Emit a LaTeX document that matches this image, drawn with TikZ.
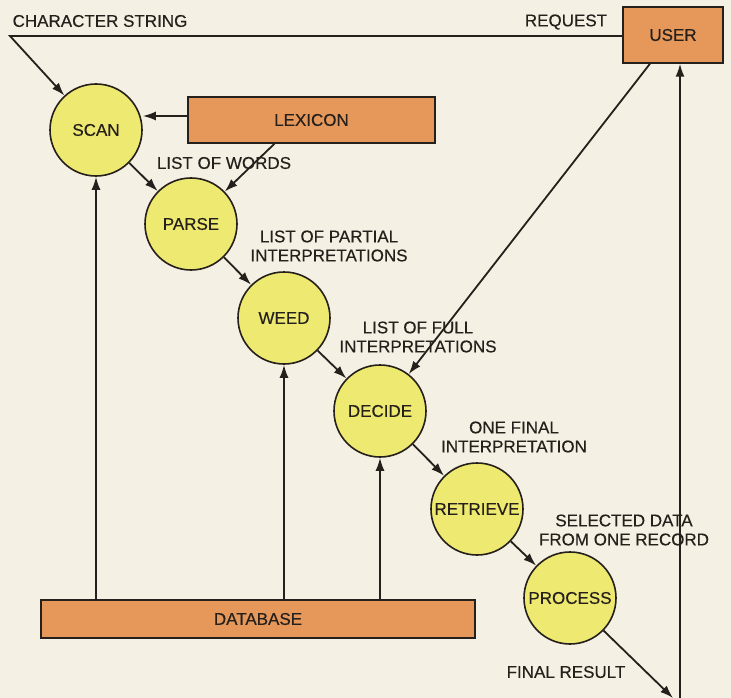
\documentclass[tikz,border=0pt]{standalone}
\usepackage{fontspec}
\setmainfont{Liberation Sans}[UprightFeatures={FakeBold=0.35}]
\usetikzlibrary{arrows.meta, calc}

\definecolor{paper}{RGB}{244,240,227}
\definecolor{circyel}{RGB}{238,233,112}
\definecolor{boxor}{RGB}{229,152,90}
\definecolor{ink}{RGB}{38,32,28}

\newcommand{\labfont}{\fontsize{17}{19}\selectfont}

\tikzset{
    proc/.style={circle, draw=ink, fill=circyel, line width=1.6pt,
        minimum size=92pt, inner sep=0pt, font=\labfont, text=ink},
    store/.style={rectangle, draw=ink, fill=boxor, line width=1.4pt,
        inner sep=0pt, font=\labfont, text=ink},
    flow/.style={draw=ink, line width=1.8pt, -{Latex[length=13pt,width=9pt]}},
    lab/.style={font=\labfont, text=ink, align=center, inner sep=0pt}
}

\begin{document}
\begin{tikzpicture}[x=1pt, y=-1pt]
    \fill[paper] (0,0) rectangle (731,698);
    \useasboundingbox (0,0) rectangle (731,698);

    % stores
    \node[store, minimum width=100pt, minimum height=56pt] (user) at (673,35) {USER};
    \node[store, minimum width=247pt, minimum height=46pt] (lex) at (311.5,120) {LEXICON};
    \node[store, minimum width=434pt, minimum height=38pt] (db) at (258,619) {DATABASE};

    % processes
    \node[proc] (scan) at (96,130) {SCAN};
    \node[proc] (parse) at (191,224) {PARSE};
    \node[proc] (weed) at (284,318) {WEED};
    \node[proc] (decide) at (380,411) {DECIDE};
    \node[proc] (retrieve) at (477,509) {RETRIEVE};
    \node[proc] (process) at (570,598) {PROCESS};

    % free ends
    \coordinate (cscorner) at (10,36);
    \coordinate (final) at (673,698);
    \coordinate (back) at (680,698);

    % labels
    \node[lab] (lcs) at (100,21) {CHARACTER STRING};
    \node[lab] (lreq) at (566,22) {REQUEST};
    \node[lab] (lwords) at (224,163) {LIST OF WORDS};
    \node[lab] (lpart) at (329,246) {LIST OF PARTIAL\\INTERPRETATIONS};
    \node[lab] (lfull) at (418,337) {LIST OF FULL\\INTERPRETATIONS};
    \node[lab] (lone) at (514,437) {ONE FINAL\\INTERPRETATION};
    \node[lab] (lsel) at (624,530) {SELECTED DATA\\FROM ONE RECORD};
    \node[lab] (lres) at (566,672) {FINAL RESULT};

    % connectors
    \draw[flow] (user.west |- cscorner) -- (cscorner) -- (scan);
    \draw[flow] ([yshift=4pt]lex.west) -- ([yshift=4pt]lex.west -| scan.east);
    \draw[flow] ([xshift=-37pt]lex.south) -- (parse);
    \draw[flow] (scan) -- (parse);
    \draw[flow] (parse) -- (weed);
    \draw[flow] (weed) -- (decide);
    \draw[flow] (decide) -- (retrieve);
    \draw[flow] (retrieve) -- (process);
    \draw[flow] ([xshift=-23pt]user.south) -- (decide);
    \draw[flow] (process) -- (final);
    \draw[flow] (back) -- (back |- user.south);

    \foreach \p in {scan, weed, decide}
        \draw[flow] (\p |- db.north) -- (\p);
\end{tikzpicture}
\end{document}
